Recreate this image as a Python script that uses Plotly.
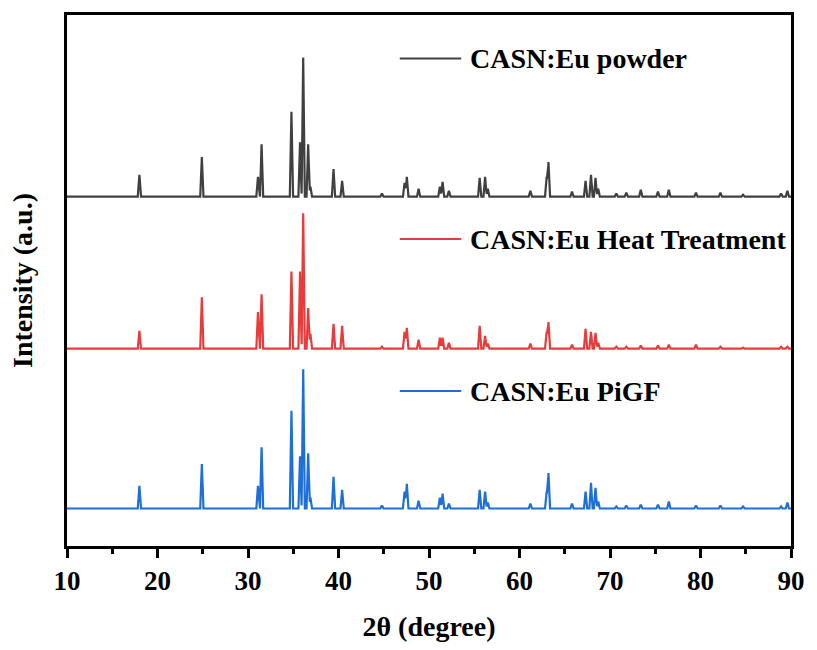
import numpy as np
import plotly.graph_objects as go

# Peak positions (2θ, degree) shared by the three patterns
peak_pos = [18.0, 24.9, 31.1, 31.5, 34.8, 35.75, 36.1, 36.65, 36.9, 39.45, 40.4, 44.8,
            47.3, 47.55, 48.85, 51.2, 51.5, 52.2, 55.6, 56.2, 56.5, 61.2, 63.0, 63.2,
            65.8, 67.3, 67.9, 68.4, 68.7, 70.7, 71.8, 73.4, 75.3, 76.5, 79.5, 82.2,
            84.7, 88.9, 89.6]

# Peak heights above baseline (arbitrary units)
powder_h = [22, 40, 20, 53, 86, 55, 141, 53, 10, 28, 16, 3,
            14, 20, 8, 10, 15, 6, 19, 20, 8, 6, 20, 35,
            5, 16, 22, 19, 8, 3, 4, 7, 5, 7, 4, 4,
            2, 3, 6]
heat_h = [18, 52, 37, 55, 78, 78, 137, 41, 15, 25, 23, 2,
          17, 21, 9, 11, 11, 6, 23, 13, 5, 5, 17, 27,
          4, 20, 17, 16, 6, 2, 2, 3, 3, 4, 4, 2,
          1, 2, 2]
pigf_h = [23, 45, 23, 62, 99, 53, 141, 56, 11, 32, 19, 3,
          17, 25, 8, 11, 15, 5, 19, 17, 6, 5, 17, 36,
          5, 17, 26, 21, 7, 2, 3, 4, 4, 7, 3, 3,
          2, 2, 6]

# Vertical offsets (baselines) of the stacked patterns
offsets = {"powder": 354, "heat": 200, "pigf": 38}

names = ["CASN:Eu powder", "CASN:Eu Heat Treatment", "CASN:Eu PiGF"]
colors = ["#404040", "#e83c3c", "#1f6fd8"]

x_min, x_max = 10, 90
y_min, y_max = 0, 538
half_width = 0.18


def pattern(heights, base):
    pos = np.array(peak_pos)
    h = np.array(heights, dtype=float)
    xs = np.concatenate([[x_min, x_max], pos - half_width, pos, pos + half_width])
    xs = np.unique(np.clip(xs, x_min, x_max))
    ys = np.full_like(xs, float(base))
    for p, hh in zip(pos, h):
        ys += np.maximum(0.0, hh * (1 - np.abs(xs - p) / half_width))
    return xs, ys


font_family = "Liberation Serif"
fig = go.Figure()
series = [(powder_h, offsets["powder"]), (heat_h, offsets["heat"]), (pigf_h, offsets["pigf"])]
for (hts, base), name, col in zip(series, names, colors):
    xs, ys = pattern(hts, base)
    fig.add_trace(go.Scatter(x=xs, y=ys, mode="lines", name=name,
                             line=dict(color=col, width=2.2), showlegend=False))

# Legend entries placed beside each pattern
legend_y = [494, 311, 157]
for name, col, ly in zip(names, colors, legend_y):
    fig.add_shape(type="line", x0=46.77, x1=53.56, y0=ly, y1=ly, xref="x", yref="y",
                  line=dict(color=col, width=2))
    fig.add_annotation(x=54.3, y=ly, xref="x", yref="y", text="<b>%s</b>" % name,
                       showarrow=False, xanchor="left", yanchor="middle",
                       font=dict(family=font_family, size=28, color="black"))

fig.update_layout(
    width=817, height=650,
    margin=dict(l=67, r=19, t=14, b=98),
    paper_bgcolor="white", plot_bgcolor="white",
    font=dict(family=font_family, color="black"),
)
fig.update_xaxes(
    range=[x_min, x_max], dtick=10, tick0=10,
    showline=True, linecolor="black", linewidth=2.5, mirror=True,
    ticks="outside", ticklen=9, tickwidth=2.5, tickcolor="black",
    minor=dict(dtick=5, ticks="outside", ticklen=5, tickwidth=2.5, tickcolor="black"),
    showgrid=False, zeroline=False,
    tickfont=dict(family=font_family, size=27, color="black", weight="bold"),
    title=dict(text="<b>2θ (degree)</b>", font=dict(family=font_family, size=28), standoff=22),
)
fig.update_yaxes(
    range=[y_min, y_max],
    showline=True, linecolor="black", linewidth=2.5, mirror=True,
    showticklabels=False, ticks="", showgrid=False, zeroline=False,
    title=dict(text="<b>Intensity (a.u.)</b>", font=dict(family=font_family, size=28), standoff=24),
)

fig.write_html("out.html")
